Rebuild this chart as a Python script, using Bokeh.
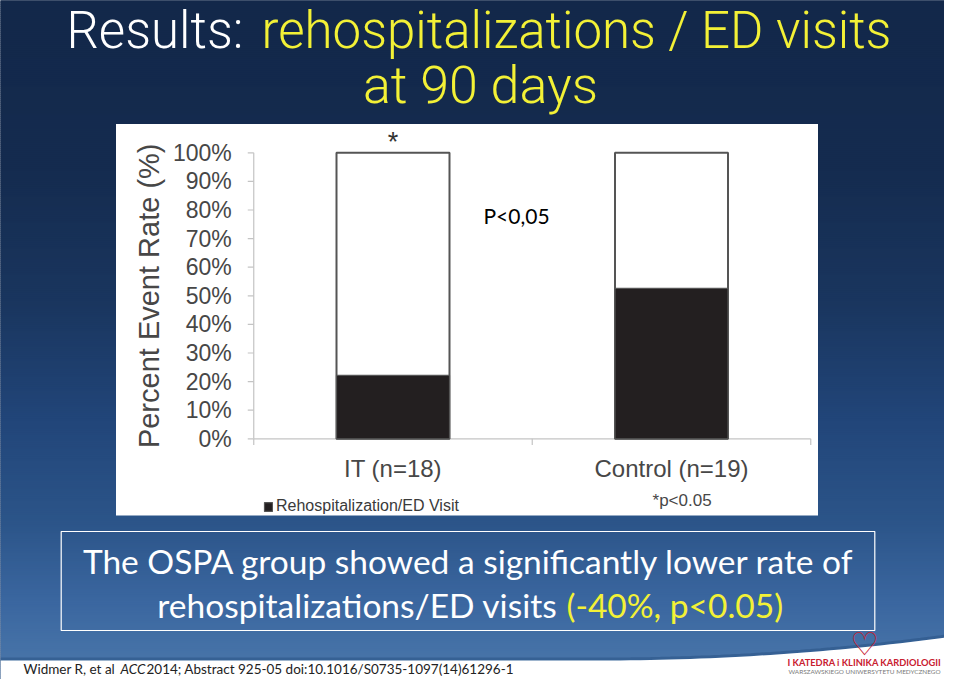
import numpy as np
from bokeh.plotting import figure
from bokeh.models import Range1d, Legend, LegendItem
from bokeh.core.properties import value
from bokeh.embed import file_html
from bokeh.resources import INLINE

# ---------------- data ----------------
groups = ["IT (n=18)", "Control (n=19)"]
group_pos = [0, 1]
event_rate = [22.2, 52.6]          # % with rehospitalization / ED visit at 90 days
total_rate = [100, 100]
y_ticks = [0, 10, 20, 30, 40, 50, 60, 70, 80, 90, 100]
y_tick_labels = ["0%", "10%", "20%", "30%", "40%", "50%", "60%", "70%", "80%", "90%", "100%"]
y_title = "Percent Event Rate (%)"
legend_label = "Rehospitalization/ED Visit"
sig_note = "*p<0.05"
sig_star = "*"
p_text = "P<0,05"
title_white = "Results:"
title_yellow = "rehospitalizations / ED visits"
title_line2 = "at 90 days"
box_line1 = "The OSPA group showed a significantly lower rate of"
box_line2_white = "rehospitalizations/ED visits"
box_line2_yellow = "(-40%, p<0.05)"
foot_a = "Widmer R, et al"
foot_b = "ACC"
foot_c = "2014; Abstract 925-05 doi:10.1016/S0735-1097(14)61296-1"
logo_1 = "I KATEDRA i KLINIKA KARDIOLOGII"
logo_2 = "WARSZAWSKIEGO UNIWERSYTETU MEDYCZNEGO"

YELLOW = "#f3f136"
CHART_TXT = "#474747"
SLIDE_FONT = value("Lato")
CHART_FONT = value("Liberation Sans")
TITLE_FONT = value("Roboto Light")

W, H = 944, 679
# ---------------- figure (slide coordinates in px, y downwards) ----------------
p = figure(width=W, height=H, x_range=Range1d(0, W), y_range=Range1d(H, 0),
           output_backend="svg", toolbar_location=None, min_border=0,
           x_axis_location=None, y_axis_location=None)
p.grid.visible = False
p.outline_line_color = None
p.background_fill_color = "#13284a"
p.border_fill_color = "#13284a"

# chart scales: group index -> slide x, percent -> slide y
PX_PER_GRP = 278.5
GRP0 = 392.5
PX_PER_PCT = 2.86
PCT0 = 438.3
p.extra_x_ranges = {"grp": Range1d(-GRP0 / PX_PER_GRP, (W - GRP0) / PX_PER_GRP)}
p.extra_y_ranges = {"pct": Range1d(-(H - PCT0) / PX_PER_PCT, PCT0 / PX_PER_PCT)}

# ---------------- background gradient ----------------
stop_y = [0, 170, 300, 420, 520, 600, 670]
stop_r = [0x13, 0x15, 0x1a, 0x22, 0x2c, 0x3b, 0x4a]
stop_g = [0x28, 0x2c, 0x36, 0x46, 0x55, 0x67, 0x77]
stop_b = [0x4a, 0x50, 0x5f, 0x7a, 0x89, 0xa0, 0xaa]
ys = np.arange(-2, 684, 2)
cols = ["#%02x%02x%02x" % (int(np.interp(y, stop_y, stop_r)), int(np.interp(y, stop_y, stop_g)),
                           int(np.interp(y, stop_y, stop_b))) for y in ys]
p.quad(left=-5, right=W + 5, top=ys, bottom=ys + 2.5, fill_color=cols, line_color=None)

# footer white swoosh
sx = np.linspace(0, 960, 97)
top_edge = np.where(sx < 600, 660, 660 - 25 * ((sx - 600) / 360) ** 2)
p.line(sx, top_edge - 1.5, line_color="#2b5587", line_width=3, line_alpha=0.6)
p.patch(np.concatenate([sx, sx[::-1]]), np.concatenate([top_edge, np.full_like(sx, 700)]),
        fill_color="white", line_color=None)

# ---------------- title (y = visual middle of the line) ----------------
p.text(x=[243], y=[30], text=[title_white], text_align="right", text_baseline="middle",
       text_font=TITLE_FONT, text_font_size="51px", text_color="white")
p.text(x=[261], y=[30], text=[title_yellow], text_align="left", text_baseline="middle",
       text_font=TITLE_FONT, text_font_size="51px", text_color=YELLOW)
p.text(x=[480], y=[85], text=[title_line2], text_align="center", text_baseline="middle",
       text_font=TITLE_FONT, text_font_size="52px", text_color=YELLOW)

# ---------------- chart panel ----------------
p.quad(left=[115.5], right=[817.5], top=[123.5], bottom=[515], fill_color="white", line_color=None)

# axis lines and ticks
AX = "#c4c4c4"
p.segment(x0=[-0.5], y0=[0], x1=[-0.5], y1=[100], x_range_name="grp", y_range_name="pct",
          line_color=AX, line_width=1.2)
p.segment(x0=[-0.5], y0=[0], x1=[1.5], y1=[0], x_range_name="grp", y_range_name="pct",
          line_color=AX, line_width=1.2)
p.segment(x0=[-0.5 - 6 / PX_PER_GRP] * len(y_ticks), y0=y_ticks, x1=[-0.5] * len(y_ticks), y1=y_ticks,
          x_range_name="grp", y_range_name="pct", line_color=AX, line_width=1.2)
p.segment(x0=[-0.5, 0.5, 1.5], y0=[0, 0, 0], x1=[-0.5, 0.5, 1.5], y1=[-2.2, -2.2, -2.2],
          x_range_name="grp", y_range_name="pct", line_color=AX, line_width=1.2)

# bars
p.vbar(x=group_pos, width=113 / PX_PER_GRP, bottom=0, top=total_rate, x_range_name="grp",
       y_range_name="pct", fill_color="white", line_color="#555555", line_width=2)
black = p.vbar(x=group_pos, width=113 / PX_PER_GRP, bottom=0, top=event_rate, x_range_name="grp",
               y_range_name="pct", fill_color="#231f20", line_color="#555555", line_width=1.2)

# tick labels
p.text(x=[-0.5 - 22 / PX_PER_GRP] * len(y_ticks), y=y_ticks, text=y_tick_labels,
       x_range_name="grp", y_range_name="pct", text_align="right", text_baseline="middle",
       text_font=CHART_FONT, text_font_size="23px", text_color=CHART_TXT)
# y title
p.text(x=[148], y=[50], text=[y_title], y_range_name="pct", angle=np.pi / 2,
       text_align="center", text_baseline="middle", text_font=CHART_FONT,
       text_font_size="29px", text_color=CHART_TXT)
# category labels
p.text(x=group_pos, y=[468, 468], text=groups, x_range_name="grp", text_align="center",
       text_baseline="middle", text_font=CHART_FONT, text_font_size="24px", text_color=CHART_TXT)
# significance star & note
p.text(x=[0], y=[126], text=[sig_star], x_range_name="grp", text_align="center",
       text_baseline="top", text_font=CHART_FONT, text_font_size="27px", text_color="#333333")
p.text(x=[1.038], y=[500], text=[sig_note], x_range_name="grp", text_align="center",
       text_baseline="middle", text_font=CHART_FONT, text_font_size="17px", text_color=CHART_TXT)
p.text(x=[483], y=[215], text=[p_text], text_align="left", text_baseline="middle",
       text_font=SLIDE_FONT, text_font_size="21px", text_color="black")

legend = Legend(items=[LegendItem(label=legend_label, renderers=[black])], location=(263, 164),
                orientation="horizontal", padding=0, spacing=0, margin=0, glyph_width=10,
                glyph_height=11, label_standoff=3, label_text_font="Liberation Sans",
                label_text_font_size="16px", label_text_color="#3a3a3a", label_height=16,
                background_fill_alpha=0, border_line_alpha=0)
p.add_layout(legend, "center")

# ---------------- summary box ----------------
p.quad(left=[60.7], right=[874.3], top=[531], bottom=[630], fill_color=None,
       line_color="white", line_width=1.2)
p.text(x=[468.5], y=[560.5], text=[box_line1], text_align="center", text_baseline="middle",
       text_font=SLIDE_FONT, text_font_size="33.5px", text_color="white")
p.text(x=[557], y=[604], text=[box_line2_white], text_align="right", text_baseline="middle",
       text_font=SLIDE_FONT, text_font_size="33.5px", text_color="white")
p.text(x=[566], y=[604], text=[box_line2_yellow], text_align="left", text_baseline="middle",
       text_font=SLIDE_FONT, text_font_size="33.5px", text_color=YELLOW)

# ---------------- footer ----------------
FOOT_Y = 668
p.text(x=[23], y=[FOOT_Y], text=[foot_a], text_baseline="middle", text_font=SLIDE_FONT,
       text_font_size="13.5px", text_color="#222222")
p.text(x=[120], y=[FOOT_Y], text=[foot_b], text_baseline="middle", text_font=SLIDE_FONT,
       text_font_style="italic", text_font_size="13.5px", text_color="#222222")
p.text(x=[146], y=[FOOT_Y], text=[foot_c], text_baseline="middle", text_font=SLIDE_FONT,
       text_font_size="13.5px", text_color="#222222")

# logo
p.text(x=[864], y=[643], text=["\u2661"], text_align="center", text_baseline="middle",
       text_font=value("DejaVu Sans"), text_font_style="bold", text_font_size="32px",
       text_color="#c8202f")
p.text(x=[864], y=[662], text=[logo_1], text_align="center", text_baseline="middle",
       text_font=SLIDE_FONT, text_font_style="bold", text_font_size="9.3px", text_color="#c8202f")
p.text(x=[864], y=[671], text=[logo_2], text_align="center", text_baseline="middle",
       text_font=SLIDE_FONT, text_font_size="6.4px", text_color="#7a7a7a")

open("out.html", "w").write(file_html(p, INLINE))
